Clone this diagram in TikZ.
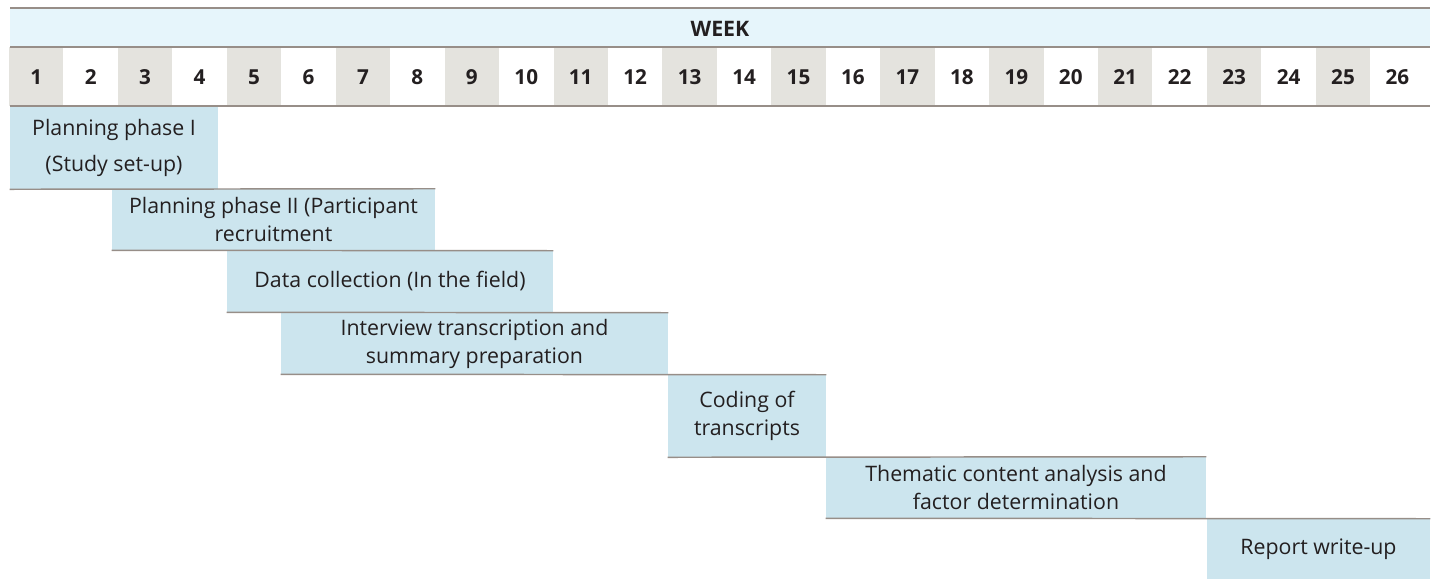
\documentclass[tikz,border=0pt]{standalone}
\usepackage{fontspec}
\setmainfont{Open Sans}
\definecolor{hdr}{HTML}{E6F5FB}
\definecolor{oddcol}{HTML}{E4E3DE}
\definecolor{barfill}{HTML}{CCE5EE}
\definecolor{rule}{HTML}{978E88}
\definecolor{ink}{HTML}{231F20}
\begin{document}
\begin{tikzpicture}[x=0.75pt,y=-0.75pt,
  rulel/.style={draw=rule,line width=1.1pt},
  wknum/.style={font=\fontsize{15.5}{18}\selectfont\bfseries,text=ink},
  bar/.style 2 args={fill=barfill,inner sep=0pt,minimum width=#1*0.75pt,minimum height=#2*0.75pt,
    align=center,text=ink,font=\fontsize{16}{21}\selectfont}]
\useasboundingbox (0,0) rectangle (1437,579);
\fill[hdr] (10,8) rectangle (1430,47);
\node[wknum,font=\fontsize{16}{18}\selectfont\bfseries] (week) at (720,29) {WEEK};
\foreach \i in {1,...,26}{
  \pgfmathsetmacro\xl{9+(\i-1)*54.45}
  \pgfmathsetmacro\xc{\xl+27.2}
  \ifodd\i \fill[oddcol] (\xl,47) rectangle ++(54.45,59);\fi
  \node[wknum] (w\i) at (\xc,77) {\i};
}
\draw[rulel] (10,8) -- (1430,8);
\draw[rulel] (10,47) -- (1430,47);
\draw[rulel] (10,106) -- (1430,106);
% bars
\node[bar={208}{82},font=\fontsize{16}{27}\selectfont] (b1) at (114,148) {Planning phase I\\(Study set-up)};
\node[bar={323}{61}] (b2) at (273.5,219.5) {Planning phase II (Participant\\recruitment};
\node[bar={326}{61}] (b3) at (390,281.5) {Data collection (In the field)};
\node[bar={387}{61}] (b4) at (474.5,343.5) {Interview transcription and\\summary preparation};
\node[bar={158}{82}] (b5) at (747,416) {Coding of\\transcripts};
\node[bar={380}{61}] (b6) at (1016,487.5) {Thematic content analysis and\\factor determination};
\node[bar={223}{60}] (b7) at (1318.5,549) {Report write-up};
% separator rules between bars
\draw[rulel] (b1.south west) -- (b2.north east);
\draw[rulel] (b2.south west) -- (b3.north east);
\draw[rulel] (b3.south west) -- (b4.north east);
\draw[rulel] (b4.south west) -- (b5.north east);
\draw[rulel] (b5.south west) -- (b6.north east);
\draw[rulel] (b6.south west) -- (b7.north east);
\end{tikzpicture}
\end{document}
